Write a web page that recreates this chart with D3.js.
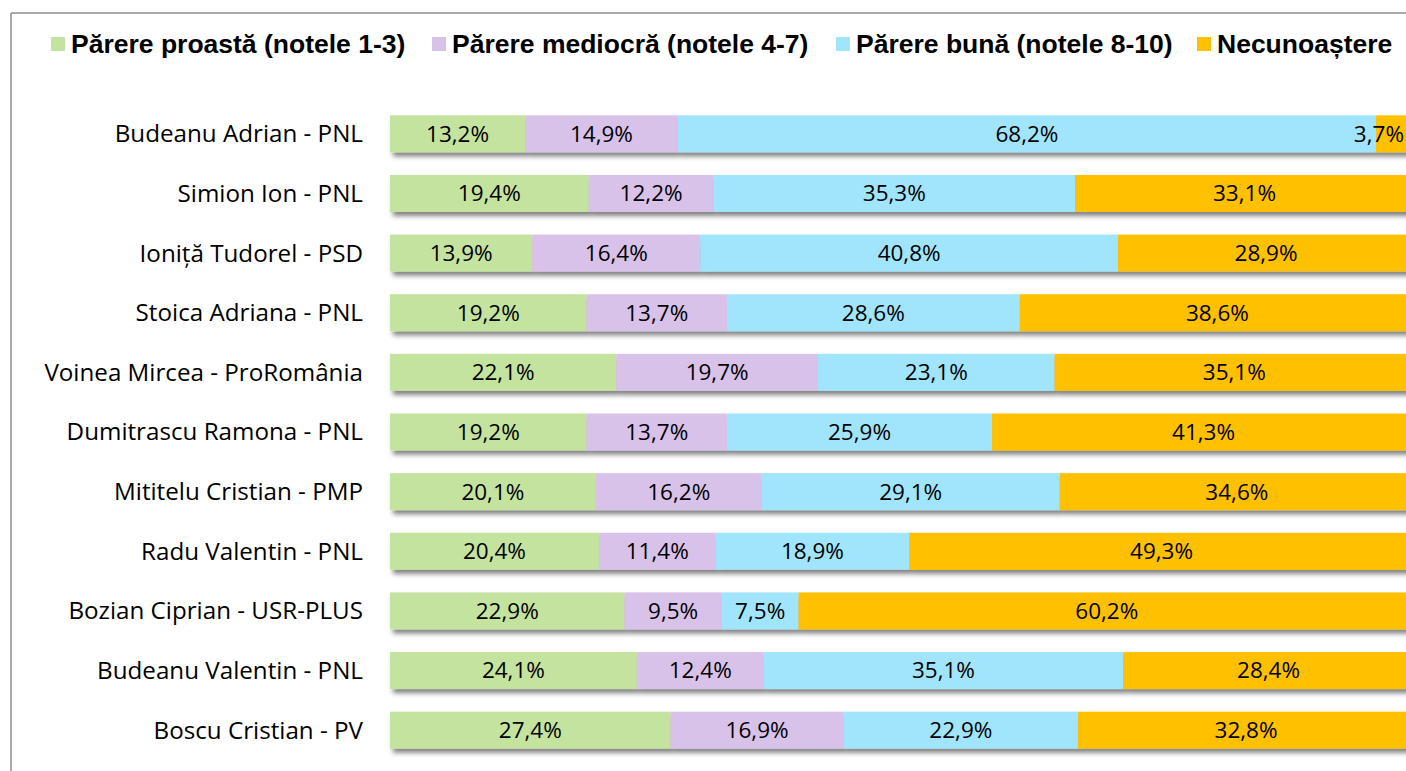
<!DOCTYPE html>
<html>
<head>
<meta charset="utf-8">
<script src="https://cdn.jsdelivr.net/npm/d3@7"></script>
<style>
  body { margin: 0; background: #fff; }
  svg { display: block; }
</style>
</head>
<body>
<svg width="1406" height="771"></svg>
<script>
// candidates, top to bottom
var candidates = [
  "Budeanu Adrian - PNL",
  "Simion Ion - PNL",
  "Ioniță Tudorel - PSD",
  "Stoica Adriana - PNL",
  "Voinea Mircea - ProRomânia",
  "Dumitrascu Ramona - PNL",
  "Mititelu Cristian - PMP",
  "Radu Valentin - PNL",
  "Bozian Ciprian - USR-PLUS",
  "Budeanu Valentin - PNL",
  "Boscu Cristian - PV"
];

var seriesNames = [
  "Părere proastă (notele 1-3)",
  "Părere mediocră (notele 4-7)",
  "Părere bună (notele 8-10)",
  "Necunoaștere"
];

var proasta   = [13.2, 19.4, 13.9, 19.2, 22.1, 19.2, 20.1, 20.4, 22.9, 24.1, 27.4];
var mediocra  = [14.9, 12.2, 16.4, 13.7, 19.7, 13.7, 16.2, 11.4, 9.5, 12.4, 16.9];
var buna      = [68.2, 35.3, 40.8, 28.6, 23.1, 25.9, 29.1, 18.9, 7.5, 35.1, 22.9];
var necunoast = [3.7, 33.1, 28.9, 38.6, 35.1, 41.3, 34.6, 49.3, 60.2, 28.4, 32.8];

var colors = ["#C4E39E", "#D9C2EA", "#A0E5FC", "#FFC000"];

var svg = d3.select("svg");

// frame lines (chart area border, cropped)
svg.append("line").attr("x1", 11).attr("x2", 1406).attr("y1", 13).attr("y2", 13)
  .attr("stroke", "#8c8c8c").attr("stroke-width", 1.5);
svg.append("line").attr("x1", 11).attr("x2", 11).attr("y1", 13).attr("y2", 771)
  .attr("stroke", "#8c8c8c").attr("stroke-width", 1.5);

var defs = svg.append("defs");
var f = defs.append("filter").attr("id", "shadow")
  .attr("x", "-5%").attr("y", "-30%").attr("width", "110%").attr("height", "180%");
f.append("feDropShadow").attr("dx", 3).attr("dy", 4).attr("stdDeviation", 2.5)
  .attr("flood-color", "#000").attr("flood-opacity", 0.5);

var rows = candidates.map(function(c, i) {
  return { name: c, p: proasta[i], m: mediocra[i], b: buna[i], n: necunoast[i] };
});
var keys = ["p", "m", "b", "n"];
var stacked = d3.stack().keys(keys)(rows);

var x = d3.scaleLinear().domain([0, 100]).range([390, 1414]);
var y = d3.scaleBand().domain(candidates).range([104, 760]).paddingInner(0.38).paddingOuter(0.19);

// category labels
svg.append("g").selectAll("text")
  .data(candidates)
  .enter().append("text")
  .attr("x", 363)
  .attr("y", function(d) { return y(d) + y.bandwidth() / 2; })
  .attr("dy", "0.35em")
  .attr("text-anchor", "end")
  .style("font-family", "'Open Sans', sans-serif")
  .style("font-size", "24.2px")
  .style("fill", "#000")
  .text(function(d) { return d; });

// bars, one group per row so the shadow sits under the whole bar
var barG = svg.append("g");
rows.forEach(function(r, i) {
  var g = barG.append("g").attr("filter", "url(#shadow)");
  stacked.forEach(function(s, k) {
    var seg = s[i];
    g.append("rect")
      .attr("x", x(seg[0]))
      .attr("y", y(r.name))
      .attr("width", x(seg[1]) - x(seg[0]))
      .attr("height", y.bandwidth())
      .attr("fill", colors[k]);
  });
});

// value labels (kept inside the visible area like excel does)
var fmt = function(v) { return v.toFixed(1).replace(".", ",") + "%"; };
stacked.forEach(function(s, k) {
  svg.append("g").selectAll("text")
    .data(s)
    .enter().append("text")
    .attr("x", function(d) { return (x(d[0]) + x(d[1])) / 2; })
    .attr("y", function(d) { return y(d.data.name) + y.bandwidth() / 2; })
    .attr("dy", "0.35em")
    .attr("text-anchor", "middle")
    .style("font-family", "'Open Sans', sans-serif")
    .style("font-size", "22.5px")
    .style("fill", "#000")
    .text(function(d) { return fmt(d.data[keys[k]]); })
    .each(function() {
      var t = d3.select(this);
      var w = this.getComputedTextLength();
      var cx = +t.attr("x");
      if (cx + w / 2 > 1404) t.attr("x", 1404 - w / 2);
    });
});

// legend
var legendX = [51, 432, 836, 1197];
var leg = svg.append("g").selectAll("g")
  .data(seriesNames)
  .enter().append("g")
  .attr("transform", function(d, i) { return "translate(" + legendX[i] + ",0)"; });
leg.append("rect").attr("x", 0).attr("y", 37).attr("width", 14).attr("height", 14)
  .attr("fill", function(d, i) { return colors[i]; });
leg.append("text")
  .attr("x", 20).attr("y", 53)
  .style("font-family", "'Liberation Sans', Arial, sans-serif")
  .style("font-weight", "bold")
  .style("font-size", "26.5px")
  .style("fill", "#000")
  .text(function(d) { return d; });
</script>
</body>
</html>
